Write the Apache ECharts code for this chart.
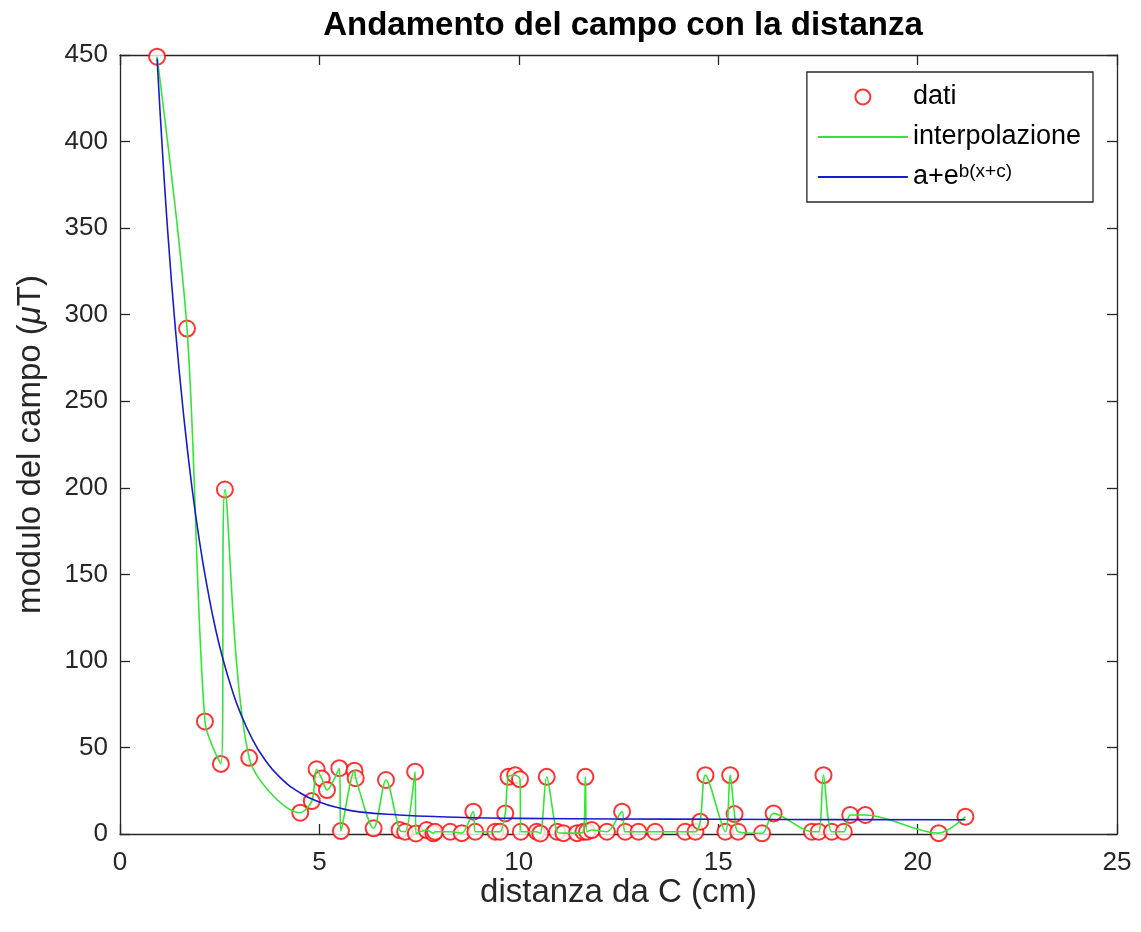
<!DOCTYPE html>
<html>
<head>
<meta charset="utf-8">
<script src="https://cdn.jsdelivr.net/npm/echarts@6/dist/echarts.min.js"></script>
<style>
html,body{margin:0;padding:0;background:#fff;}
#c{width:1141px;height:932px;}
</style>
</head>
<body>
<div id="c"></div>
<script>
// measured data points (distance cm, field uT), sorted by distance
const datiX = [0.93, 1.68, 2.13, 2.53, 2.63, 3.24, 4.52, 4.81, 4.93, 5.06, 5.19, 5.50, 5.54, 5.88, 5.91, 6.36, 6.67, 7.01, 7.15, 7.40, 7.42, 7.69, 7.86, 7.90, 8.28, 8.57, 8.86, 8.91, 9.41, 9.53, 9.66, 9.74, 9.91, 10.03, 10.05, 10.45, 10.54, 10.70, 10.96, 11.12, 11.46, 11.62, 11.67, 11.71, 11.83, 12.21, 12.59, 12.67, 13.00, 13.42, 14.17, 14.43, 14.55, 14.68, 15.18, 15.30, 15.41, 15.50, 16.10, 16.39, 17.35, 17.52, 17.64, 17.85, 18.15, 18.31, 18.69, 20.53, 21.20];
const datiY = [449, 292, 65, 40.5, 199, 44, 12.3, 19, 37.4, 32, 25.4, 38, 1.7, 36.6, 32.2, 3.3, 31.2, 2.3, 1.3, 36, 0.3, 2.3, 0.4, 1.3, 1.3, 0.5, 12.9, 1.3, 1.3, 1.3, 11.9, 33, 34, 31.6, 1.3, 1.3, 0.3, 33, 1.3, 0.5, 0.5, 1.3, 33, 1.3, 2.3, 1.3, 12.9, 1.3, 1.3, 1.3, 1.3, 1.3, 7.1, 34, 1.3, 34, 11.5, 1.3, 0.4, 11.9, 1.3, 1.3, 34, 1.3, 1.3, 11, 11, 0.5, 10];

// fitted curve a+e^{b(x+c)}
const fitX = [0.93, 1.0, 1.2, 1.4, 1.6, 1.8, 2.0, 2.2, 2.4, 2.6, 2.8, 3.0, 3.3, 3.6, 4.0, 4.5, 5.0, 5.5, 6.0, 7.0, 8.0, 10.0, 12.5, 15.0, 18.0, 21.2];
const fitY = [448, 419, 347, 289, 241, 201, 168, 141, 118, 99.5, 84, 71, 55.6, 44, 33, 24, 18.5, 15, 12.8, 11, 10, 9, 8.7, 8.5, 8.3, 8.2];

const xTicks = {min: 0, max: 25, interval: 5};
const yTicks = {min: 0, max: 450, interval: 50};

const seriesNames = ['dati', 'interpolazione', 'fit'];

const FONT = 'Liberation Sans';
const AX = '#262626';

const datiPts = datiX.map((x, i) => [x, datiY[i]]);
const fitPts = fitX.map((x, i) => [x, fitY[i]]);

const chart = echarts.init(document.getElementById('c'), null, {renderer: 'canvas'});
function axisCommon() {
  return {
    axisLine: {show: true, onZero: false, lineStyle: {color: AX, width: 1.3}},
    axisTick: {show: true, inside: true, length: 10, lineStyle: {color: AX, width: 1.3}},
    splitLine: {show: false}
  };
}
chart.setOption({
  animation: false,
  backgroundColor: '#fff',
  title: {
    text: 'Andamento del campo con la distanza',
    left: 618, top: 4, textAlign: 'center',
    textStyle: {fontFamily: FONT, fontSize: 33, fontWeight: 'bold', color: '#000'}
  },
  grid: {left: 120, right: 24, top: 55, bottom: 98, containLabel: false},
  legend: {
    orient: 'vertical',
    right: 48, top: 72,
    backgroundColor: '#fff',
    borderColor: AX, borderWidth: 1.3,
    padding: [10, 12, 10, 10],
    itemWidth: 90, itemHeight: 15, itemGap: 10,
    data: [
      {name: 'dati'},
      {name: 'interpolazione', itemStyle: {opacity: 0}},
      {name: 'fit', itemStyle: {opacity: 0}}
    ],
    formatter: function (n) {
      if (n === 'fit') return '{n|a+e}{s|b(x+c)}';
      return '{n|' + n + '}';
    },
    textStyle: {
      fontFamily: FONT, fontSize: 27, color: '#000', lineHeight: 30,
      rich: {
        n: {fontFamily: FONT, fontSize: 27, color: '#000', lineHeight: 30},
        s: {fontFamily: FONT, fontSize: 19, color: '#000', verticalAlign: 'top', padding: [0, 0, 10, 0]}
      }
    }
  },
  xAxis: [
    Object.assign({
      type: 'value', position: 'bottom', min: xTicks.min, max: xTicks.max, interval: xTicks.interval,
      name: 'distanza da C (cm)', nameLocation: 'middle', nameGap: 42, nameMoveOverlap: false,
      nameTextStyle: {fontFamily: FONT, fontSize: 33, color: AX},
      axisLabel: {fontFamily: FONT, fontSize: 26, color: AX, margin: 16}
    }, axisCommon()),
    Object.assign({
      type: 'value', position: 'top', min: xTicks.min, max: xTicks.max, interval: xTicks.interval,
      axisLabel: {show: false}
    }, axisCommon())
  ],
  yAxis: [
    Object.assign({
      type: 'value', position: 'left', min: yTicks.min, max: yTicks.max, interval: yTicks.interval,
      name: '{a|modulo del campo (}{i|μ}{a|T)}', nameLocation: 'middle', nameGap: 73, nameRotate: 90,
      nameTextStyle: {
        fontFamily: FONT, fontSize: 33, color: AX,
        rich: {
          a: {fontFamily: FONT, fontSize: 33, color: AX},
          i: {fontFamily: FONT, fontSize: 33, color: AX, fontStyle: 'italic'}
        }
      },
      axisLabel: {fontFamily: FONT, fontSize: 26, color: AX, margin: 12}
    }, axisCommon()),
    Object.assign({
      type: 'value', position: 'right', min: yTicks.min, max: yTicks.max, interval: yTicks.interval,
      axisLabel: {show: false}
    }, axisCommon())
  ],
  series: [
    {
      name: 'dati', type: 'scatter', data: datiPts,
      symbol: 'emptyCircle', symbolSize: 16,
      itemStyle: {color: '#ff0000', borderColor: '#ff0000', borderWidth: 1.3},
      z: 3
    },
    {
      name: 'interpolazione', type: 'line', data: datiPts,
      showSymbol: false, symbol: 'none', smooth: 0.3,
      lineStyle: {color: '#33e633', width: 1.6},
      itemStyle: {color: '#33e633'},
      z: 4
    },
    {
      name: 'fit', type: 'line', data: fitPts,
      showSymbol: false, symbol: 'none', smooth: 0.5,
      lineStyle: {color: '#1a1acc', width: 1.6},
      itemStyle: {color: '#1a1acc'},
      z: 5
    }
  ]
});
</script>
</body>
</html>
